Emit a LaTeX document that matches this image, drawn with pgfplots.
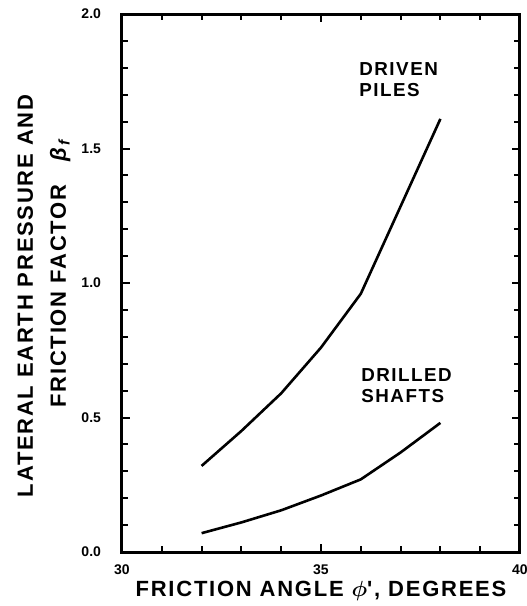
\documentclass[border=0pt]{standalone}
\usepackage{fontspec}
\setmainfont{Liberation Sans}
\newfontfamily\lab[LetterSpace=8]{Liberation Sans Bold}
\usepackage{pgfplots}
\pgfplotsset{compat=1.18}

\pgfplotstableread{
phi  beta
32   0.32
33   0.45
34   0.59
35   0.76
36   0.96
38   1.61
}\driven
\pgfplotstableread{
phi  beta
32   0.07
33   0.11
34   0.155
35   0.21
36   0.27
37   0.37
38   0.48
}\drilled

\begin{document}
\begin{tikzpicture}
\begin{axis}[
    name=ax,
    scale only axis,
    clip=false,
    width=199pt, height=269pt,
    xmin=30, xmax=40, ymin=0, ymax=2,
    xtick={30,35,40}, xticklabels={30,35,40},
    ytick={0,0.5,1,1.5,2}, yticklabels={0.0,0.5,1.0,1.5,2.0},
    minor x tick num=4, minor y tick num=4,
    tick align=inside, tick pos=both,
    major tick length=4pt, minor tick length=3pt,
    axis line style={line width=1.5pt},
    every tick/.style={line width=1pt, black},
    tick label style={font=\fontsize{7}{8}\selectfont\bfseries},
    yticklabel style={xshift=-7pt},
    xticklabel style={yshift=-3pt},
    xlabel={\lab FRICTION ANGLE {\boldmath$\phi$}', DEGREES},
    xlabel style={font=\fontsize{11}{12}\selectfont, yshift=4pt},
]
\addplot[black, line width=1.3pt] table[x=phi, y=beta] {\driven};
\addplot[black, line width=1.3pt] table[x=phi, y=beta] {\drilled};
\node[align=left, font=\lab\fontsize{9.4}{10.5}\selectfont] at (axis cs:36.95,1.755) {DRIVEN\\PILES};
\node[align=left, font=\lab\fontsize{9.4}{10.5}\selectfont] at (axis cs:37.15,0.62) {DRILLED\\SHAFTS};
\node[rotate=90, font=\lab\fontsize{11}{12}\selectfont] at (axis description cs:-0.243,0.476) {LATERAL EARTH PRESSURE AND};
\node[rotate=90, font=\lab\fontsize{11}{12}\selectfont] at (axis description cs:-0.155,0.52) {FRICTION FACTOR \ \ \textit{β}\textsubscript{\textit{f}}};
\end{axis}
\pgfresetboundingbox
\path[use as bounding box] ([xshift=-61pt,yshift=-27pt]ax.south west) rectangle ([xshift=3.5pt,yshift=7pt]ax.north east);
\end{tikzpicture}
\end{document}
